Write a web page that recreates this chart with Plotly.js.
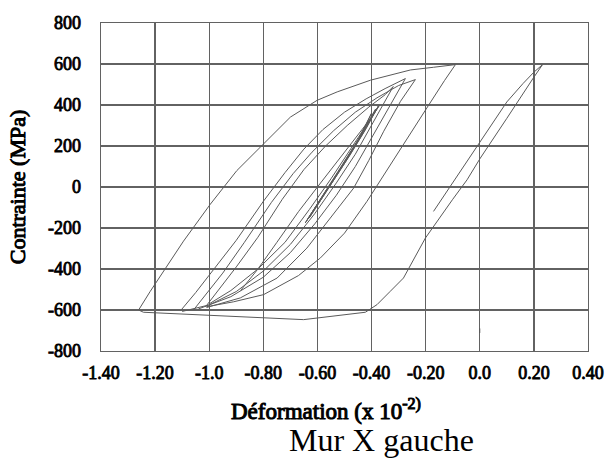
<!DOCTYPE html>
<html>
<head>
<meta charset="utf-8">
<script src="https://cdn.plot.ly/plotly-3.0.1.min.js"></script>
<style>
html,body{margin:0;padding:0;background:#fff;}
#chart{width:608px;height:471px;}
/* faux-bold serif: the bold face of the serif family is not available */
#chart g.xtick text, #chart g.ytick text { stroke:#000; stroke-width:0.85px; }
#chart text.ytitle { stroke:#000; stroke-width:1px; }
#chart g.annotation[data-index="0"] text { stroke:#000; stroke-width:1px; }
</style>
</head>
<body>
<div id="chart"></div>
<script>
// ---- Data (strain x10^-2, stress MPa) ----
// first tension cycle (right narrow loop)
const rightUpX   = [-0.171, -0.10, -0.02, 0.05, 0.10, 0.16, 0.20, 0.232];
const rightUpY   = [-119, 20, 178, 318, 415, 505, 560, 597];
const rightDownX = [0.232, 0.198, 0.10, 0.002, -0.047, -0.10, -0.201, -0.282, -0.331, -0.38, -0.423];
const rightDownY = [597, 532, 335, 141, 35, -60, -249, -444, -509, -574, -611];
// compression plateau
const bottomX = [-0.423, -0.651, -1.243, -1.261];
const bottomY = [-611, -647, -611, -600];
// large reloading envelope
const envX = [-1.261, -1.2185, -1.095, -0.996, -0.898, -0.799, -0.70, -0.601, -0.527, -0.404, -0.256, -0.171, -0.09];
const envY = [-600, -510, -264, -84, 80, 210, 341, 423, 464, 521, 571, 584, 597];
// large unloading
const unlX = [-0.09, -0.13, -0.196, -0.294, -0.417, -0.50, -0.589, -0.67, -0.799, -0.91, -1.01];
const unlY = [597, 520, 385, 182, -70, -225, -346, -432, -525, -560, -584];
// inner cycles: reloading branches
const r1X = [-1.107, -1.05, -1.0, -0.9, -0.8, -0.72, -0.65, -0.58, -0.5, -0.42, -0.35, -0.30, -0.275];
const r1Y = [-605, -515, -430, -260, -70, 70, 185, 280, 365, 430, 480, 515, 529];
const r2X = [-1.058, -1.0, -0.95, -0.87, -0.77, -0.69, -0.62, -0.54, -0.46, -0.38, -0.30, -0.238];
const r2Y = [-600, -505, -420, -270, -75, 65, 170, 275, 365, 435, 495, 524];
const r3X = [-1.014, -0.96, -0.9, -0.82, -0.73, -0.65, -0.57, -0.49, -0.41, -0.35, -0.32];
const r3Y = [-585, -495, -390, -245, -60, 85, 200, 300, 390, 450, 490];
// inner cycles: unloading branches
const d1X = [-0.238, -0.26, -0.293, -0.355, -0.41, -0.466, -0.55, -0.639, -0.749, -0.885, -1.01];
const d1Y = [524, 480, 418, 272, 130, -5, -150, -298, -444, -541, -588];
const d2X = [-0.275, -0.30, -0.34, -0.40, -0.46, -0.53, -0.61, -0.70, -0.80, -0.92, -1.04];
const d2Y = [529, 470, 380, 240, 100, -40, -180, -320, -440, -535, -595];
const d3X = [-0.32, -0.35, -0.40, -0.46, -0.53, -0.61, -0.70, -0.80, -0.90, -1.0, -1.10];
const d3Y = [490, 420, 300, 160, 20, -130, -280, -410, -510, -575, -607];
// small inner loop
const s1X = [-0.884, -0.82, -0.75, -0.67, -0.6, -0.53, -0.46, -0.40, -0.37, -0.42, -0.48, -0.55, -0.63, -0.72, -0.82, -0.92, -1.0];
const s1Y = [-505, -400, -270, -120, 0, 120, 240, 340, 400, 300, 180, 40, -110, -270, -400, -505, -570];
// elastic cycles (dense band)
const e1X = [-0.645, -0.58, -0.50, -0.44, -0.40, -0.45, -0.52, -0.59, -0.645];
const e1Y = [-175, -40, 120, 250, 360, 230, 80, -60, -175];
const e2X = [-0.64, -0.57, -0.49, -0.43, -0.385, -0.44, -0.51, -0.58, -0.64];
const e2Y = [-165, -25, 140, 270, 380, 250, 100, -45, -165];
const e3X = [-0.63, -0.56, -0.48, -0.42, -0.375, -0.43, -0.50, -0.57, -0.63];
const e3Y = [-150, -10, 155, 285, 395, 265, 115, -30, -150];
// isolated mark
const markX = [0.0, 0.0];
const markY = [-690, -712];

const xTickVals = [-1.4, -1.2, -1.0, -0.8, -0.6, -0.4, -0.2, 0.0, 0.2, 0.4];
const xTickText = ["-1.40", "-1.20", "-1.0", "-0.80", "-0.60", "-0.40", "-0.20", "0.0", "0.20", "0.40"];
const yTickVals = [-800, -600, -400, -200, 0, 200, 400, 600, 800];
const yTickText = ["-800", "-600", "-400", "-200", "0", "200", "400", "600", "800"];

const series = [
  [rightUpX, rightUpY], [rightDownX, rightDownY], [bottomX, bottomY],
  [envX, envY], [unlX, unlY],
  [r1X, r1Y], [r2X, r2Y], [r3X, r3Y],
  [d1X, d1Y], [d2X, d2Y], [d3X, d3Y],
  [s1X, s1Y], [e1X, e1Y], [e2X, e2Y], [e3X, e3Y], [markX, markY]
];

const lineStyle = {color: '#5a5a5a', width: 1};
const traces = series.map(s => ({
  x: s[0], y: s[1], type: 'scatter', mode: 'lines',
  line: lineStyle, showlegend: false, hoverinfo: 'skip'
}));

const serif = 'Liberation Serif';
const layout = {
  width: 608, height: 471,
  margin: {l: 101, r: 20, t: 23, b: 120},
  paper_bgcolor: '#fff', plot_bgcolor: '#fff',
  showlegend: false,
  xaxis: {
    range: [-1.4, 0.4], tickvals: xTickVals, ticktext: xTickText,
    showgrid: true, gridcolor: '#626262', gridwidth: 1.3,
    zeroline: false, showline: true, mirror: true, linecolor: '#626262', linewidth: 1.3,
    ticks: 'outside', ticklen: 5, tickcolor: 'rgba(0,0,0,0)',
    tickfont: {family: serif, size: 18, color: '#000'}
  },
  yaxis: {
    range: [-800, 800], tickvals: yTickVals, ticktext: yTickText,
    showgrid: true, gridcolor: '#626262', gridwidth: 1.3,
    zeroline: false, showline: true, mirror: true, linecolor: '#626262', linewidth: 1.3,
    ticks: 'outside', ticklen: 15, tickcolor: 'rgba(0,0,0,0)',
    tickfont: {family: serif, size: 18, color: '#000'},
    title: {text: 'Contrainte (MPa)', standoff: 16, font: {family: serif, size: 22, color: '#000'}}
  },
  annotations: [
    {text: 'Déformation (x 10<sup>-2)</sup>', xref: 'paper', yref: 'paper', x: 0.462, y: -0.177,
     xanchor: 'center', yanchor: 'middle', showarrow: false,
     font: {family: serif, size: 23, color: '#000'}},
    {text: 'Mur X gauche', xref: 'paper', yref: 'paper', x: 0.575, y: -0.271,
     xanchor: 'center', yanchor: 'middle', showarrow: false,
     font: {family: serif, size: 32, color: '#000'}}
  ]
};

Plotly.newPlot('chart', traces, layout, {displayModeBar: false, staticPlot: true});
</script>
</body>
</html>
